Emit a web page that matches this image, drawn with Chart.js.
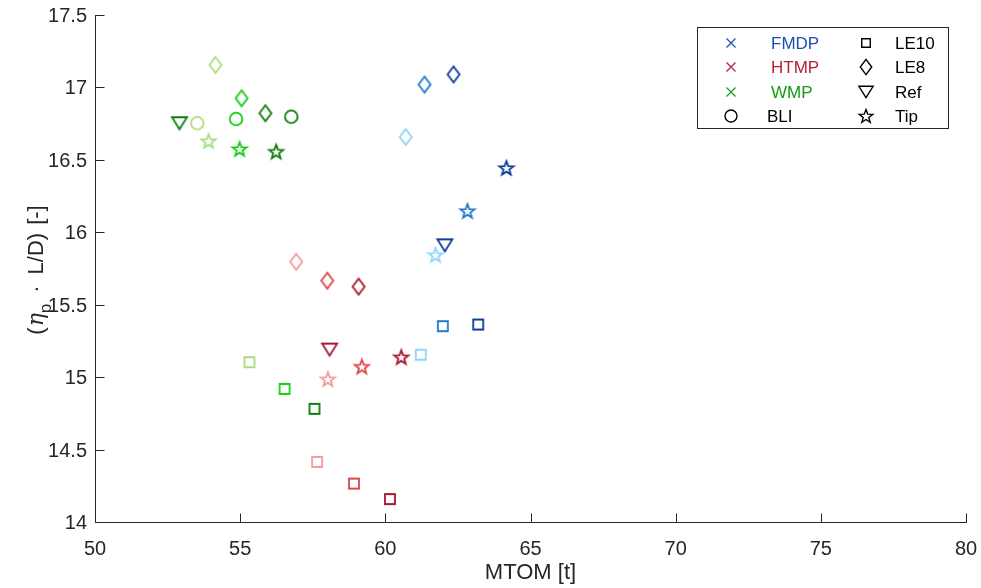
<!DOCTYPE html>
<html>
<head>
<meta charset="utf-8">
<script src="https://cdn.jsdelivr.net/npm/chart.js@4/dist/chart.umd.min.js"></script>
<style>
  html, body { margin: 0; padding: 0; background: #fff; }
  #plot { display: block; }
</style>
</head>
<body>
<canvas id="plot" width="981" height="588"></canvas>
<script>
// shades go light -> medium -> dark
var xTicks = [50, 55, 60, 65, 70, 75, 80];
var yTicks = [14, 14.5, 15, 15.5, 16, 16.5, 17, 17.5];

var blueShades = ['#8dd6fa', '#2279cc', '#0b3c9c'];
var redShades = ['#f59a9a', '#e0434c', '#a6162f'];
var greenShades = ['#a9de7f', '#12cf12', '#0b7d0b'];

// FMDP
var fmdpLE10X = [61.22, 61.98, 63.20];
var fmdpLE10Y = [15.155, 15.352, 15.363];
var fmdpLE8X = [60.70, 61.35, 62.35];
var fmdpLE8Y = [16.658, 17.02, 17.09];
var fmdpTipX = [61.73, 62.83, 64.17];
var fmdpTipY = [15.844, 16.147, 16.444];
var fmdpRefX = [62.05];
var fmdpRefY = [15.91];

// HTMP
var htmpLE10X = [57.65, 58.92, 60.16];
var htmpLE10Y = [14.415, 14.265, 14.158];
var htmpLE8X = [56.93, 58.00, 59.08];
var htmpLE8Y = [15.797, 15.666, 15.625];
var htmpTipX = [58.02, 59.19, 60.55];
var htmpTipY = [14.986, 15.073, 15.138];
var htmpRefX = [58.08];
var htmpRefY = [15.19];

// WMP
var wmpLE10X = [55.32, 56.53, 57.56];
var wmpLE10Y = [15.103, 14.919, 14.781];
var wmpLE8X = [54.15, 55.05, 55.87];
var wmpLE8Y = [17.155, 16.925, 16.822];
var wmpTipX = [53.91, 54.98, 56.24];
var wmpTipY = [16.630, 16.575, 16.557];
var wmpBLIX = [53.52, 54.86, 56.76];
var wmpBLIY = [16.753, 16.782, 16.798];
var wmpRefX = [52.91];
var wmpRefY = [16.753];

var familyNames = ['FMDP', 'HTMP', 'WMP'];
var familyColors = ['#1f4db3', '#b5203c', '#149a14'];
var variantNames = ['LE10', 'LE8', 'Ref', 'Tip'];
var variantShapes = ['square', 'diamond', 'triangle', 'star'];

var axisColor = '#262626';
var fontFam = '"Liberation Sans", Arial, Helvetica, sans-serif';

function tracePath(ctx, shape, cx, cy, s) {
  ctx.beginPath();
  if (shape == 'square') {
    ctx.rect(cx - 5 * s, cy - 5 * s, 10 * s, 10 * s);
  } else if (shape == 'diamond') {
    ctx.moveTo(cx, cy - 8 * s);
    ctx.lineTo(cx + 6 * s, cy);
    ctx.lineTo(cx, cy + 8 * s);
    ctx.lineTo(cx - 6 * s, cy);
    ctx.closePath();
  } else if (shape == 'triangle') {
    ctx.moveTo(cx - 7.5 * s, cy - 6 * s);
    ctx.lineTo(cx + 7.5 * s, cy - 6 * s);
    ctx.lineTo(cx, cy + 6 * s);
    ctx.closePath();
  } else if (shape == 'star') {
    for (var i = 0; i < 10; i++) {
      var r = (i % 2 == 0 ? 7.5 : 3.1) * s;
      var a = -Math.PI / 2 + i * Math.PI / 5;
      var px = cx + r * Math.cos(a);
      var py = cy + 0.6 * s + r * Math.sin(a);
      if (i == 0) ctx.moveTo(px, py); else ctx.lineTo(px, py);
    }
    ctx.closePath();
  } else if (shape == 'circle') {
    ctx.arc(cx, cy, 6.3 * s, 0, Math.PI * 2);
  } else if (shape == 'cross') {
    ctx.moveTo(cx - 4.5 * s, cy - 4.5 * s);
    ctx.lineTo(cx + 4.5 * s, cy + 4.5 * s);
    ctx.moveTo(cx + 4.5 * s, cy - 4.5 * s);
    ctx.lineTo(cx - 4.5 * s, cy + 4.5 * s);
  }
}

var markerCache = {};
function marker(shape, color) {
  var key = shape + color;
  if (markerCache[key]) return markerCache[key];
  var c = document.createElement('canvas');
  c.width = 22;
  c.height = 22;
  var g = c.getContext('2d');
  g.strokeStyle = color;
  g.lineWidth = 1.8;
  g.lineJoin = 'miter';
  tracePath(g, shape, 11, 11, 1);
  g.stroke();
  markerCache[key] = c;
  return c;
}

function makeSet(label, xs, ys, shape, colors) {
  var pts = [];
  for (var i = 0; i < xs.length; i++) pts.push({x: xs[i], y: ys[i]});
  return {
    label: label,
    data: pts,
    showLine: false,
    pointStyle: colors.map(function (c) { return marker(shape, c); }),
    pointRadius: 8,
    pointHoverRadius: 8
  };
}

var datasets = [
  makeSet('FMDP LE10', fmdpLE10X, fmdpLE10Y, 'square', blueShades),
  makeSet('FMDP LE8', fmdpLE8X, fmdpLE8Y, 'diamond', blueShades),
  makeSet('FMDP Tip', fmdpTipX, fmdpTipY, 'star', blueShades),
  makeSet('FMDP Ref', fmdpRefX, fmdpRefY, 'triangle', [blueShades[2]]),
  makeSet('HTMP LE10', htmpLE10X, htmpLE10Y, 'square', redShades),
  makeSet('HTMP LE8', htmpLE8X, htmpLE8Y, 'diamond', redShades),
  makeSet('HTMP Tip', htmpTipX, htmpTipY, 'star', redShades),
  makeSet('HTMP Ref', htmpRefX, htmpRefY, 'triangle', [redShades[2]]),
  makeSet('WMP LE10', wmpLE10X, wmpLE10Y, 'square', greenShades),
  makeSet('WMP LE8', wmpLE8X, wmpLE8Y, 'diamond', greenShades),
  makeSet('WMP Tip', wmpTipX, wmpTipY, 'star', greenShades),
  makeSet('WMP BLI', wmpBLIX, wmpBLIY, 'circle', greenShades),
  makeSet('WMP Ref', wmpRefX, wmpRefY, 'triangle', [greenShades[2]])
];

// axes lines, inward ticks, tick labels, titles and the two-column legend
var decor = {
  id: 'decor',
  afterDraw: function (chart) {
    var ctx = chart.ctx;
    var area = chart.chartArea;
    var xs = chart.scales.x, ys = chart.scales.y;
    ctx.save();
    ctx.strokeStyle = axisColor;
    ctx.lineWidth = 1;
    var L = Math.round(area.left) + 0.5;
    var B = Math.round(area.bottom) + 0.5;
    ctx.beginPath();
    ctx.moveTo(L, Math.round(area.top));
    ctx.lineTo(L, B);
    ctx.lineTo(Math.round(area.right) + 1, B);
    xTicks.forEach(function (v) {
      var p = Math.round(xs.getPixelForValue(v)) + 0.5;
      ctx.moveTo(p, B);
      ctx.lineTo(p, B - 9);
    });
    yTicks.forEach(function (v) {
      var p = Math.round(ys.getPixelForValue(v)) + 0.5;
      ctx.moveTo(L, p);
      ctx.lineTo(L + 9, p);
    });
    ctx.stroke();

    // tick labels
    ctx.fillStyle = axisColor;
    ctx.font = '20px ' + fontFam;
    ctx.textBaseline = 'alphabetic';
    ctx.textAlign = 'center';
    xTicks.forEach(function (v) {
      ctx.fillText(String(v), xs.getPixelForValue(v), area.bottom + 33);
    });
    ctx.textAlign = 'right';
    yTicks.forEach(function (v) {
      ctx.fillText(String(v), area.left - 8, ys.getPixelForValue(v) + 7);
    });

    // x title
    ctx.font = '22px ' + fontFam;
    ctx.textAlign = 'center';
    ctx.textBaseline = 'middle';
    ctx.fillText('MTOM [t]', (area.left + area.right) / 2, 573);

    // y title with subscript
    ctx.save();
    ctx.translate(37, 270);
    ctx.rotate(-Math.PI / 2);
    ctx.textAlign = 'left';
    ctx.textBaseline = 'middle';
    var parts = [
      {t: '(', f: '22px ' + fontFam, dy: 0, gap: 1},
      {t: '\u03B7', f: 'italic 22px "DejaVu Serif", serif', dy: 0, gap: 0},
      {t: 'p', f: '17px ' + fontFam, dy: 9, gap: 11},
      {t: '\u00B7', f: '22px ' + fontFam, dy: 0, gap: 11},
      {t: 'L/D)', f: '22px ' + fontFam, dy: 0, gap: 8},
      {t: '[-]', f: '22px ' + fontFam, dy: 0, gap: 0}
    ];
    var total = 0;
    parts.forEach(function (p) { ctx.font = p.f; p.w = ctx.measureText(p.t).width; total += p.w + p.gap; });
    var cx = -total / 2;
    parts.forEach(function (p) { ctx.font = p.f; ctx.fillText(p.t, cx, p.dy); cx += p.w + p.gap; });
    ctx.restore();

    // legend box
    ctx.strokeStyle = axisColor;
    ctx.lineWidth = 1;
    ctx.strokeRect(697.5, 27.5, 251, 101);
    var rows = [43, 67, 92, 116];
    ctx.font = '17px ' + fontFam;
    ctx.textAlign = 'left';
    ctx.textBaseline = 'middle';
    for (var i = 0; i < 3; i++) {
      ctx.strokeStyle = familyColors[i];
      ctx.lineWidth = 1.2;
      tracePath(ctx, 'cross', 731, rows[i], 1);
      ctx.stroke();
      ctx.fillStyle = familyColors[i];
      ctx.fillText(familyNames[i], 771, rows[i] + 1);
    }
    ctx.strokeStyle = '#000';
    ctx.lineWidth = 1.4;
    tracePath(ctx, 'circle', 731, rows[3], 0.95);
    ctx.stroke();
    ctx.fillStyle = '#000';
    ctx.fillText('BLI', 767, rows[3] + 1);
    for (var j = 0; j < 4; j++) {
      ctx.strokeStyle = '#000';
      ctx.lineWidth = 1.4;
      tracePath(ctx, variantShapes[j], 866, rows[j], j == 0 ? 0.85 : 0.95);
      ctx.stroke();
      ctx.fillStyle = '#000';
      ctx.fillText(variantNames[j], 895, rows[j] + 1);
    }
    ctx.restore();
  }
};

new Chart(document.getElementById('plot'), {
  type: 'scatter',
  data: { datasets: datasets },
  options: {
    responsive: false,
    devicePixelRatio: 1,
    animation: false,
    layout: { padding: { top: 15, right: 15, left: 0, bottom: 0 } },
    plugins: { legend: { display: false }, tooltip: { enabled: false } },
    scales: {
      x: {
        type: 'linear', min: 50, max: 80,
        afterFit: function (s) { s.height = 66; },
        grid: { display: false },
        border: { display: false },
        ticks: { display: false }
      },
      y: {
        type: 'linear', min: 14, max: 17.5,
        afterFit: function (s) { s.width = 95; },
        grid: { display: false },
        border: { display: false },
        ticks: { display: false }
      }
    }
  },
  plugins: [decor]
});
</script>
</body>
</html>
